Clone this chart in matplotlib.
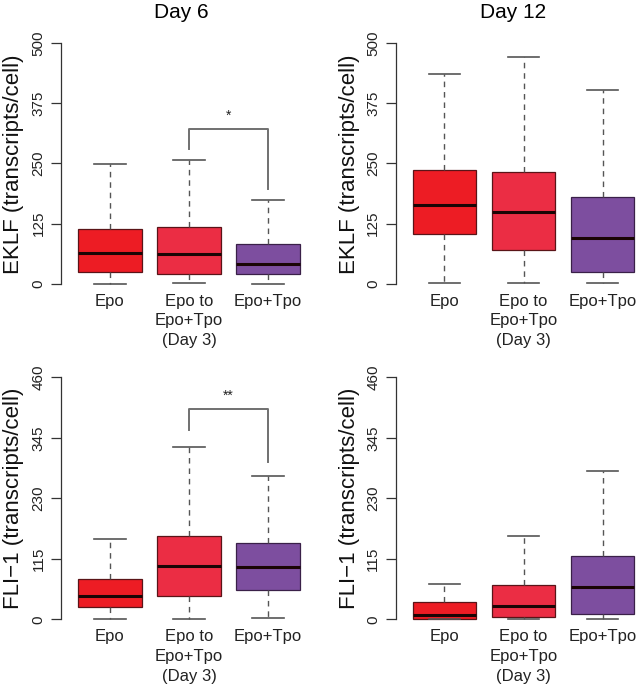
import matplotlib
matplotlib.use("Agg")
import matplotlib.pyplot as plt

plt.rcParams['font.family'] = ['Liberation Sans', 'DejaVu Sans']

groups = ["Epo", "Epo to\nEpo+Tpo\n(Day 3)", "Epo+Tpo"]
colors = ["#ED1C24", "#EB2D44", "#7D4E9F"]
edge_colors = ["#5A1418", "#5A1418", "#3A2048"]

# [whislo, q1, median, q3, whishi] per group
eklf_day6 = [[0, 25, 65, 115, 248], [1.5, 20, 62, 118, 257], [0, 20, 41, 83, 174]]
eklf_day12 = [[1, 104, 163, 237, 436], [1, 70, 150, 232, 470], [2, 25, 96, 181, 403]]
fli_day6 = [[0, 24, 45, 76, 153], [0, 45, 102, 158, 327], [2.5, 55, 100, 145, 272]]
fli_day12 = [[0, 0.5, 8, 32, 68], [0, 4, 25, 66, 159], [0, 11, 62, 120, 281]]

eklf_ticks = [0, 125, 250, 375, 500]
fli_ticks = [0, 115, 230, 345, 460]

# significance brackets: (label, bar height, left leg bottom, right leg bottom)
eklf_sig = ("*", 321, 280, 198)
fli_sig = ("**", 400, 360, 299)

W, H = 637, 685
fig = plt.figure(figsize=(W / 100, H / 100), dpi=100)


def make_ax(left_px, top_px, bottom_px):
    width_px = 256
    return fig.add_axes([left_px / W, 1 - bottom_px / H, width_px / W, (bottom_px - top_px) / H])


def draw(ax, data, ticks, ylabel, label_x_px, center_y_px, sig=None):
    stats = []
    for d in data:
        stats.append(dict(whislo=d[0], q1=d[1], med=d[2], q3=d[3], whishi=d[4], fliers=[]))
    bp = ax.bxp(stats, positions=[1, 2, 3], widths=0.8, patch_artist=True, showfliers=False,
                boxprops=dict(linewidth=0.9),
                medianprops=dict(color="#1a0505", linewidth=2.2, solid_capstyle='butt'),
                whiskerprops=dict(color="#555555", linewidth=1.0, linestyle=(0, (4, 3.5))),
                capprops=dict(color="#555555", linewidth=1.2), capwidths=0.4)
    for patch, c, ec in zip(bp['boxes'], colors, edge_colors):
        patch.set_facecolor(c)
        patch.set_edgecolor(ec)
    ymax = ticks[-1]
    ax.set_xlim(0.38, 3.62)
    ax.set_ylim(-0.04 * ymax, 1.04 * ymax)
    for s in ['top', 'right', 'bottom']:
        ax.spines[s].set_visible(False)
    ax.spines['left'].set_bounds(0, ymax)
    ax.spines['left'].set_color("#333333")
    ax.spines['left'].set_linewidth(0.9)
    ax.set_yticks(ticks)
    ax.set_yticklabels([str(t) for t in ticks], rotation=90, va='center', fontsize=11, color="#222222")
    ax.tick_params(axis='y', length=7, width=0.9, color="#333333", pad=4)
    ax.set_xticks([1, 2, 3])
    ax.set_xticklabels(groups, fontsize=12, linespacing=1.4, color="#222222")
    ax.tick_params(axis='x', length=0, pad=0)
    fig.text(label_x_px / W, 1 - center_y_px / H, ylabel, rotation=90, ha='center', va='center',
             fontsize=16, color="#111111")
    if sig is not None:
        label, yb, yl, yr = sig
        ax.plot([2, 2, 3, 3], [yl, yb, yb, yr], color="#707070", linewidth=1.4, clip_on=False)
        ax.text(2.5, yb + 0.055 * ymax, label, ha='center', va='center', fontsize=10, color="#222222")


ax1 = make_ax(61, 33.4, 293.6)
draw(ax1, eklf_day6, eklf_ticks, "EKLF (transcripts/cell)", 14, 164, eklf_sig)
ax2 = make_ax(395.5, 33.4, 293.6)
draw(ax2, eklf_day12, eklf_ticks, "EKLF (transcripts/cell)", 349, 164)
ax3 = make_ax(61, 367.6, 629)
draw(ax3, fli_day6, fli_ticks, "FLI\u22121 (transcripts/cell)", 14, 498, fli_sig)
ax4 = make_ax(395.5, 367.6, 629)
draw(ax4, fli_day12, fli_ticks, "FLI\u22121 (transcripts/cell)", 349, 498)

fig.text(181 / W, 1 - 13 / H, "Day 6", ha='center', va='center', fontsize=15)
fig.text(513 / W, 1 - 13 / H, "Day 12", ha='center', va='center', fontsize=15)

fig.savefig("out.png", dpi=100, facecolor="white")
